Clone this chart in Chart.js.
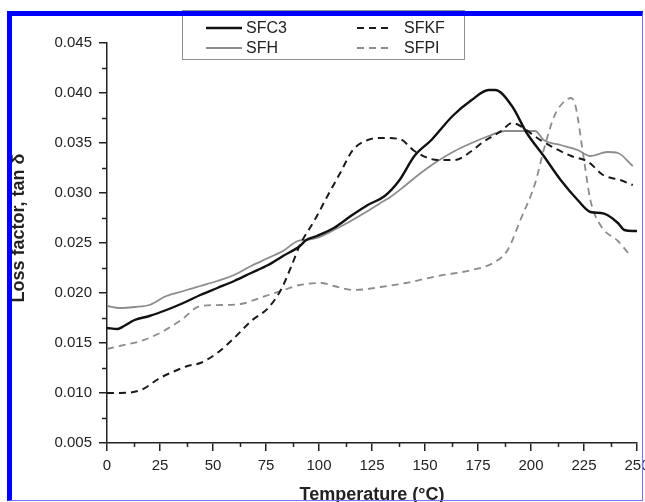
<!DOCTYPE html>
<html>
<head>
<meta charset="utf-8">
<script src="https://cdn.jsdelivr.net/npm/chart.js@4.4.1/dist/chart.umd.min.js"></script>
<style>
  html, body { margin: 0; padding: 0; background: #fff; }
  #wrap { position: relative; width: 645px; height: 502px; overflow: hidden; background: #fff; }
  #wrap canvas { position: absolute; left: 0; top: 0; }
  #frame {
    position: absolute; left: 7px; top: 11px; width: 636px; height: 490px;
    box-sizing: border-box; pointer-events: none;
    border-top: 5px solid #0000ff; border-left: 5px solid #0000ff;
    border-right: 1px solid #7373ff; border-bottom: 1px solid #7373ff;
  }
</style>
</head>
<body>
<div id="wrap">
  <canvas id="chart" width="660" height="502"></canvas>
  <div id="frame"></div>
</div>
<script>
const FONT = '"Liberation Sans", Arial, Helvetica, sans-serif';
const INK = '#222';
const GREY = '#8c8c8c';

const X_TITLE = 'Temperature (°C)';
const Y_TITLE = 'Loss factor, tan δ';

// temperature (°C) / loss factor pairs for each sample
const sfc3Temp = [0, 5, 8, 13, 20, 28, 36, 44, 52, 60, 68, 76, 83, 91, 94, 99, 107, 115, 123, 131,
  138, 145, 153, 163, 172, 180, 183, 191, 198, 206, 214, 222, 228, 233, 236, 241, 244, 248, 250];
const sfc3Loss = [0.0165, 0.0164, 0.0167, 0.0173, 0.0177, 0.0183, 0.0190, 0.0198, 0.0205, 0.0212,
  0.0220, 0.0228, 0.0237, 0.0247, 0.0253, 0.0257, 0.0265, 0.0277, 0.0288, 0.0297,
  0.0313, 0.0337, 0.0353, 0.0377, 0.0393, 0.0403, 0.0403, 0.0387, 0.0360, 0.0337,
  0.0313, 0.0293, 0.0281, 0.0280, 0.0278, 0.0270, 0.0263, 0.0262, 0.0262];

const sfhTemp = [0, 6, 13, 20, 28, 36, 44, 52, 60, 68, 76, 83, 90, 94, 99, 107, 115, 123, 129, 133,
  141, 148, 156, 164, 172, 180, 188, 192, 202, 206, 214, 222, 228, 236, 241, 248];
const sfhLoss = [0.0187, 0.0185, 0.0186, 0.0188, 0.0197, 0.0202, 0.0207, 0.0212, 0.0218, 0.0227,
  0.0235, 0.0242, 0.0252, 0.0253, 0.0255, 0.0263, 0.0272, 0.0282, 0.0290, 0.0295,
  0.0308, 0.0320, 0.0332, 0.0342, 0.0350, 0.0357, 0.0362, 0.0362, 0.0362, 0.0353,
  0.0348, 0.0343, 0.0337, 0.0341, 0.0340, 0.0327];

const sfkfTemp = [0, 6, 16, 25, 31, 38, 44, 52, 60, 68, 76, 82, 87, 91, 98, 104, 110, 116, 123, 129,
  138, 145, 156, 164, 172, 178, 186, 191, 195, 203, 211, 219, 227, 234, 242, 248];
const sfkfLoss = [0.0100, 0.0100, 0.0103, 0.0115, 0.0121, 0.0127, 0.0130, 0.0140, 0.0155, 0.0172,
  0.0185, 0.0203, 0.0227, 0.0248, 0.0273, 0.0297, 0.0320, 0.0343, 0.0353, 0.0355,
  0.0354, 0.0342, 0.0333, 0.0333, 0.0342, 0.0352, 0.0362, 0.0370, 0.0367, 0.0355,
  0.0345, 0.0337, 0.0331, 0.0318, 0.0313, 0.0308];

const sfpiTemp = [0, 6, 16, 25, 35, 44, 54, 63, 72, 82, 91, 101, 107, 116, 123, 129, 141, 156, 172,
  183, 189, 195, 202, 206, 211, 215, 219, 221, 225, 228, 233, 241, 247];
const sfpiLoss = [0.0144, 0.0147, 0.0152, 0.0160, 0.0173, 0.0187, 0.0188, 0.0189, 0.0195, 0.0202,
  0.0208, 0.0210, 0.0207, 0.0203, 0.0204, 0.0206, 0.0210, 0.0217, 0.0223, 0.0231,
  0.0243, 0.0273, 0.0310, 0.0343, 0.0377, 0.0390, 0.0395, 0.0387, 0.0333, 0.0293,
  0.0267, 0.0252, 0.0237];

const xMinorTicks = [12.5, 37.5, 62.5, 87.5, 112.5, 137.5, 162.5, 187.5, 212.5, 237.5];
const yMinorTicks = [0.0075, 0.0125, 0.0175, 0.0225, 0.0275, 0.0325, 0.0375, 0.0425];

const toPoints = (xs, ys) => xs.map((x, i) => ({ x: x, y: ys[i] }));

const datasets = [
  { label: 'SFC3', data: toPoints(sfc3Temp, sfc3Loss), borderColor: '#111', borderWidth: 2.4, borderDash: [] },
  { label: 'SFKF', data: toPoints(sfkfTemp, sfkfLoss), borderColor: '#1a1a1a', borderWidth: 2, borderDash: [7, 5] },
  { label: 'SFH', data: toPoints(sfhTemp, sfhLoss), borderColor: GREY, borderWidth: 1.8, borderDash: [] },
  { label: 'SFPI', data: toPoints(sfpiTemp, sfpiLoss), borderColor: GREY, borderWidth: 1.8, borderDash: [7, 5] },
];

// small outward ticks between the labelled ones
const minorTicks = {
  id: 'minorTicks',
  afterDraw(chart) {
    const { ctx, chartArea, scales } = chart;
    ctx.save();
    ctx.strokeStyle = INK;
    ctx.lineWidth = 1.5;
    ctx.beginPath();
    xMinorTicks.forEach(v => {
      const px = Math.round(scales.x.getPixelForValue(v)) + 0.5;
      ctx.moveTo(px, chartArea.bottom);
      ctx.lineTo(px, chartArea.bottom + 4);
    });
    yMinorTicks.forEach(v => {
      const py = Math.round(scales.y.getPixelForValue(v)) + 0.5;
      ctx.moveTo(chartArea.left - 5, py);
      ctx.lineTo(chartArea.left, py);
    });
    ctx.stroke();
    ctx.restore();
  },
};

const axisTitles = {
  id: 'axisTitles',
  afterDraw(chart) {
    const { ctx, chartArea } = chart;
    ctx.save();
    ctx.fillStyle = INK;
    ctx.font = 'bold 18px ' + FONT;
    ctx.textAlign = 'center';
    ctx.textBaseline = 'alphabetic';
    ctx.fillText(X_TITLE, (chartArea.left + chartArea.right) / 2, 500);
    ctx.translate(24, 228);
    ctx.rotate(-Math.PI / 2);
    ctx.fillText(Y_TITLE, 0, 0);
    ctx.restore();
  },
};

// boxed two-column key, built from the dataset styles
const legendBox = {
  id: 'legendBox',
  afterDraw(chart) {
    const { ctx } = chart;
    const cols = [{ line: 206, text: 246 }, { line: 357, text: 404 }];
    const rows = [28, 48];
    ctx.save();
    ctx.fillStyle = '#fff';
    ctx.fillRect(182.5, 10.5, 282, 49);
    ctx.strokeStyle = '#909090';
    ctx.lineWidth = 1;
    ctx.strokeRect(182.5, 10.5, 282, 49);
    ctx.font = '16px ' + FONT;
    ctx.textBaseline = 'middle';
    chart.data.datasets.forEach((ds, i) => {
      const col = cols[i % 2];
      const y = rows[Math.floor(i / 2)];
      ctx.strokeStyle = ds.borderColor;
      ctx.lineWidth = ds.borderWidth;
      ctx.setLineDash(ds.borderDash);
      ctx.beginPath();
      ctx.moveTo(col.line, y);
      ctx.lineTo(col.line + 36, y);
      ctx.stroke();
      ctx.setLineDash([]);
      ctx.fillStyle = INK;
      ctx.fillText(ds.label, col.text, y + 1);
    });
    ctx.restore();
  },
};

const axisGrid = { drawOnChartArea: false, drawTicks: true, tickLength: 8, color: INK, lineWidth: 1.5 };
const axisBorder = { display: true, color: INK, width: 1.5 };
const tickFont = { family: FONT, size: 15 };

const config = {
  type: 'line',
  data: { datasets: datasets },
  options: {
    responsive: false,
    animation: false,
    layout: { padding: { left: 7, right: 23, top: 43, bottom: 19 } },
    elements: {
      point: { radius: 0 },
      line: { tension: 0.35, cubicInterpolationMode: 'monotone', fill: false },
    },
    plugins: {
      legend: { display: false },
      tooltip: { enabled: false },
    },
    scales: {
      x: {
        type: 'linear',
        min: 0,
        max: 250,
        ticks: { stepSize: 25, font: tickFont, color: INK, padding: 6, maxRotation: 0, autoSkip: false },
        grid: axisGrid,
        border: axisBorder,
        afterFit: scale => { scale.height = 40; },
      },
      y: {
        type: 'linear',
        min: 0.005,
        max: 0.045,
        ticks: { stepSize: 0.005, font: tickFont, color: INK, padding: 7, callback: v => v.toFixed(3) },
        grid: axisGrid,
        border: axisBorder,
        afterFit: scale => { scale.width = 100; },
      },
    },
  },
  plugins: [minorTicks, axisTitles, legendBox],
};

new Chart(document.getElementById('chart'), config);
</script>
</body>
</html>
